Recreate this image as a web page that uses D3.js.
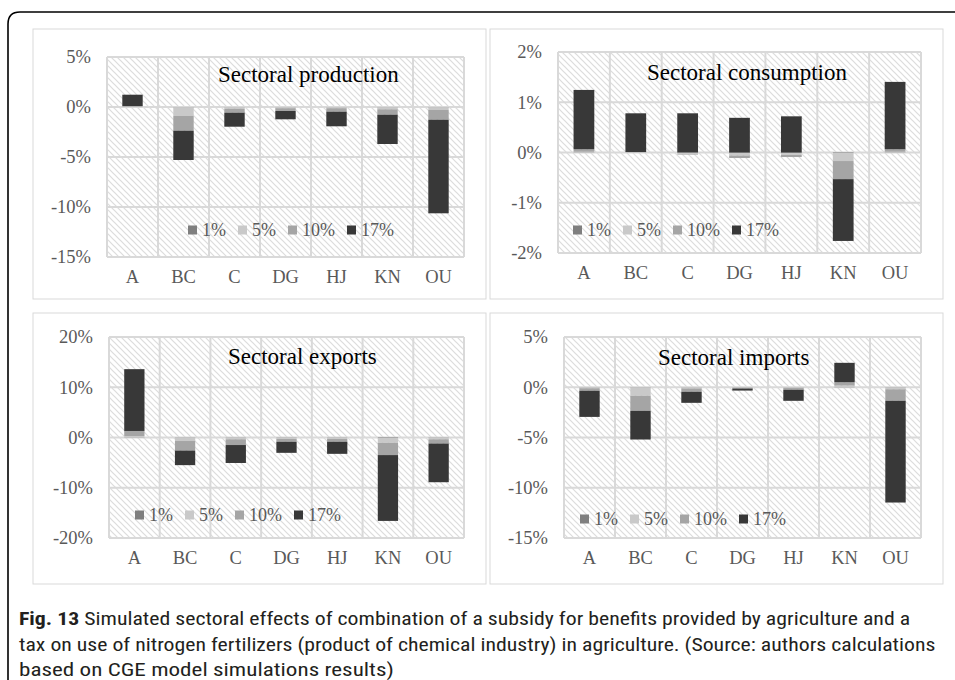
<!DOCTYPE html>
<html lang="en">
<head>
<meta charset="utf-8">
<script src="https://cdn.jsdelivr.net/npm/d3@7"></script>
<style>
  html, body { margin: 0; padding: 0; background: #fff; }
  svg { display: block; }
  .serif { font-family: 'Liberation Serif', 'Times New Roman', serif; }
</style>
</head>
<body>
<svg id="chart" width="955" height="680"></svg>
<script>
// ---------------- DATA ----------------
const categories = ["A", "BC", "C", "DG", "HJ", "KN", "OU"];
const seriesNames = ["1%", "5%", "10%", "17%"];

const production1  = [0.01, -0.03, -0.02, -0.02, -0.02, -0.03, -0.03];
const production5  = [0.02, -0.87, -0.15, -0.10, -0.10, -0.20, -0.27];
const production10 = [0.07, -1.47, -0.40, -0.28, -0.35, -0.54, -0.97];
const production17 = [1.13, -2.93, -1.40, -0.83, -1.46, -2.93, -9.36];

const consumption1  = [0.005, 0.002, -0.005, -0.01, -0.01, -0.01, 0.005];
const consumption5  = [0.01, 0.003, -0.03, -0.05, -0.04, -0.16, 0.01];
const consumption10 = [0.05, 0.005, -0.01, -0.05, -0.04, -0.36, 0.05];
const consumption17 = [1.18, 0.77, 0.78, 0.69, 0.72, -1.23, 1.34];

const exports1  = [0.05, -0.05, -0.05, -0.05, -0.05, -0.10, -0.05];
const exports5  = [0.25, -0.65, -0.30, -0.25, -0.25, -0.95, -0.30];
const exports10 = [1.00, -1.90, -1.15, -0.55, -0.55, -2.45, -0.85];
const exports17 = [12.30, -2.90, -3.57, -2.20, -2.40, -13.10, -7.70];

const imports1  = [-0.02, -0.03, -0.02, -0.01, -0.02, 0.02, -0.03];
const imports5  = [-0.08, -0.82, -0.10, -0.04, -0.06, 0.15, -0.17];
const imports10 = [-0.25, -1.50, -0.33, -0.08, -0.17, 0.33, -1.15];
const imports17 = [-2.60, -2.85, -1.10, -0.20, -1.10, 1.93, -10.12];

const productionTicks  = [5, 0, -5, -10, -15];
const consumptionTicks = [2, 1, 0, -1, -2];
const exportsTicks     = [20, 10, 0, -10, -20];
const importsTicks     = [5, 0, -5, -10, -15];

const titles = ["Sectoral production", "Sectoral consumption", "Sectoral exports", "Sectoral imports"];

const captionBold = "Fig. 13";
const captionLines = [
  " Simulated sectoral effects of combination of a subsidy for benefits provided by agriculture and a",
  "tax on use of nitrogen fertilizers (product of chemical industry) in agriculture. (Source: authors calculations",
  "based on CGE model simulations results)"
];

// ---------------- STYLE / LAYOUT ----------------
const colors = ["#7f7f7f", "#c9c9c9", "#a5a5a5", "#383838"];
const gridColor = "#d9d9d9";
const labelColor = "#595959";

const panels = [
  { title: titles[0], series: [production1, production5, production10, production17], ticks: productionTicks,
    box: [33, 29, 486, 299], plot: [107, 464, 57, 257], titleX: 218, titleY: 82, legendX: 188, legendY: 230 },
  { title: titles[1], series: [consumption1, consumption5, consumption10, consumption17], ticks: consumptionTicks,
    box: [490, 29, 943, 299], plot: [558, 921, 52, 253], titleX: 647, titleY: 80, legendX: 573, legendY: 230 },
  { title: titles[2], series: [exports1, exports5, exports10, exports17], ticks: exportsTicks,
    box: [33, 313, 486, 584], plot: [109, 464, 337, 538], titleX: 228, titleY: 364, legendX: 135, legendY: 515 },
  { title: titles[3], series: [imports1, imports5, imports10, imports17], ticks: importsTicks,
    box: [490, 313, 943, 584], plot: [564, 921, 337, 538], titleX: 658, titleY: 365, legendX: 580, legendY: 519 }
];

const svg = d3.select("#chart");
svg.append("rect").attr("width", 955).attr("height", 680).attr("fill", "#fff");

const defs = svg.append("defs");
const pat = defs.append("pattern").attr("id", "hatch")
  .attr("patternUnits", "userSpaceOnUse").attr("width", 6).attr("height", 6);
pat.append("rect").attr("width", 6).attr("height", 6).attr("fill", "#fff");
pat.append("path").attr("d", "M-1,-1 L7,7 M-1,5 L1,7 M5,-1 L7,1")
  .attr("stroke", "#dcdcdc").attr("stroke-width", 1.2);

// outer frame
svg.append("path")
  .attr("d", "M8,680 L8,24 Q8,12 20,12 L955,12")
  .attr("fill", "none").attr("stroke", "#000").attr("stroke-width", 1.6);

panels.forEach(p => {
  const g = svg.append("g");
  const [bx0, by0, bx1, by1] = p.box;
  g.append("rect").attr("x", bx0).attr("y", by0).attr("width", bx1 - bx0).attr("height", by1 - by0)
    .attr("fill", "#fff").attr("stroke", gridColor).attr("stroke-width", 1);

  const [x0, x1, y0, y1] = p.plot;
  const x = d3.scaleBand().domain(categories).range([x0, x1]).padding(0);
  const y = d3.scaleLinear().domain([p.ticks[p.ticks.length - 1], p.ticks[0]]).range([y1, y0]);

  g.append("rect").attr("x", x0).attr("y", y0).attr("width", x1 - x0).attr("height", y1 - y0)
    .attr("fill", "url(#hatch)");

  g.selectAll(".hg").data(p.ticks).join("line")
    .attr("x1", x0).attr("x2", x1).attr("y1", d => y(d)).attr("y2", d => y(d))
    .attr("stroke", gridColor).attr("stroke-width", 2);
  const vx = categories.map(c => x(c)).concat([x1]);
  g.selectAll(".vg").data(vx).join("line")
    .attr("x1", d => d).attr("x2", d => d).attr("y1", y0).attr("y2", y1)
    .attr("stroke", gridColor).attr("stroke-width", 2);

  const rows = categories.map((c, i) => {
    const o = { cat: c };
    seriesNames.forEach((s, k) => { o[s] = p.series[k][i]; });
    return o;
  });
  const stack = d3.stack().keys(seriesNames).order(d3.stackOrderNone).offset(d3.stackOffsetDiverging);
  const layers = stack(rows);
  const bw = x.bandwidth() * 0.4;
  layers.forEach((layer, k) => {
    g.selectAll(".b" + k).data(layer).join("rect")
      .attr("x", d => x(d.data.cat) + (x.bandwidth() - bw) / 2)
      .attr("width", bw)
      .attr("y", d => y(Math.max(d[0], d[1])))
      .attr("height", d => Math.abs(y(d[0]) - y(d[1])))
      .attr("fill", colors[k]);
  });

  const ya = g.append("g").attr("transform", `translate(${x0 - 16},0)`)
    .call(d3.axisLeft(y).tickValues(p.ticks).tickSize(0).tickPadding(0).tickFormat(d => d + "%"));
  ya.attr("font-family", null).attr("font-size", null);
  ya.select(".domain").remove();
  ya.selectAll("text").attr("class", "serif").style("font-size", "18.5px").attr("fill", labelColor);

  const xa = g.append("g").attr("transform", `translate(0,${y1 + 13})`)
    .call(d3.axisBottom(x).tickSize(0).tickPadding(0));
  xa.attr("font-family", null).attr("font-size", null);
  xa.select(".domain").remove();
  xa.selectAll("text").attr("class", "serif").style("font-size", "18.5px").attr("fill", labelColor);

  g.append("text").attr("class", "serif").attr("x", p.titleX).attr("y", p.titleY)
    .style("font-size", "23px").attr("fill", "#000").text(p.title);

  let lx = p.legendX;
  seriesNames.forEach((s, k) => {
    g.append("rect").attr("x", lx).attr("y", p.legendY - 4.5).attr("width", 9).attr("height", 9).attr("fill", colors[k]);
    const t = g.append("text").attr("class", "serif").attr("x", lx + 14).attr("y", p.legendY + 6)
      .style("font-size", "18px").attr("fill", labelColor).text(s);
    lx += 14 + t.node().getComputedTextLength() + 12;
  });
});

// caption
const capFont = "'Roboto Condensed', 'Roboto', sans-serif";
const capTargets = [892, 917, 375];
const capBase = [625, 651, 676];
captionLines.forEach((line, i) => {
  const g = svg.append("g");
  const t = g.append("text").attr("x", 0).attr("y", 0)
    .style("font-family", capFont).style("font-size", "17.5px").attr("fill", "#231f20");
  if (i === 0) t.append("tspan").attr("font-weight", "bold").text(captionBold);
  t.append("tspan").text(line);
  const w = t.node().getComputedTextLength();
  g.attr("transform", `translate(19,${capBase[i]}) scale(${capTargets[i] / w},1)`);
});
</script>
</body>
</html>
